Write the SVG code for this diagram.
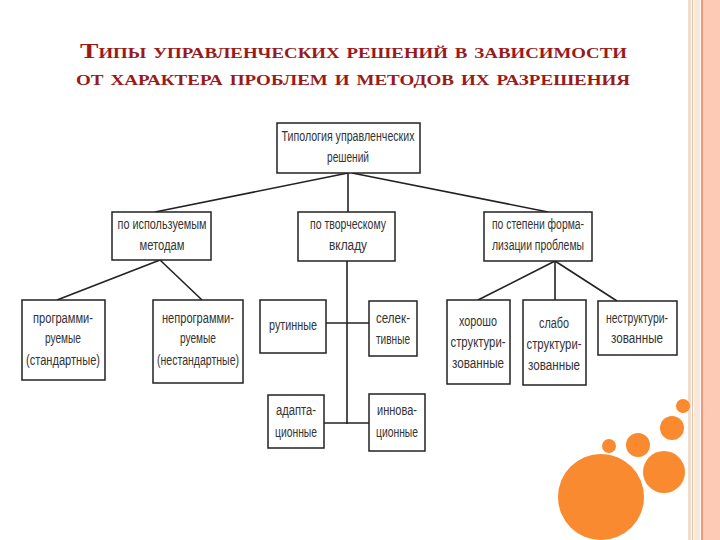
<svg xmlns="http://www.w3.org/2000/svg" width="720" height="540" viewBox="0 0 720 540">
<style>
.title{font-family:"Liberation Serif","DejaVu Serif",serif;font-weight:bold;fill:#9a1a1a;font-variant:small-caps}
.box{fill:#fff;stroke:#222;stroke-width:1.5}
.t{font-family:"Liberation Sans","DejaVu Sans",sans-serif;font-size:14px;fill:#333;text-anchor:middle}
.ln{stroke:#222;stroke-width:1.6;fill:none}
.dot{fill:#f98a2f}
</style>
<rect width="720" height="540" fill="#fff"/>
<g id="stripes">
<rect x="688" y="0" width="3" height="540" fill="#f2dccb"/>
<rect x="692" y="0" width="1" height="540" fill="#e4c2a8"/>
<rect x="694" y="0" width="6" height="540" fill="#fbe7da"/>
<rect x="701" y="0" width="2" height="540" fill="#ee9a78"/>
<rect x="703" y="0" width="17" height="540" fill="#fdcab6"/>
</g>
<g id="title">
<text class="title" x="80" y="58" font-size="22" textLength="547" lengthAdjust="spacingAndGlyphs">Типы управленческих решений в зависимости</text>
<text class="title" x="76" y="85" font-size="22" textLength="554" lengthAdjust="spacingAndGlyphs">от характера проблем и методов их разрешения</text>
</g>
<g id="connectors">
<line class="ln" x1="348" y1="173" x2="155" y2="212"/>
<line class="ln" x1="348" y1="173" x2="348" y2="212"/>
<line class="ln" x1="352" y1="173" x2="548" y2="212"/>
<line class="ln" x1="160" y1="260" x2="57" y2="300"/>
<line class="ln" x1="160" y1="260" x2="202" y2="300"/>
<line class="ln" x1="347" y1="261" x2="347" y2="424"/>
<line class="ln" x1="326" y1="323" x2="369" y2="323"/>
<line class="ln" x1="324" y1="423" x2="369" y2="423"/>
<line class="ln" x1="555" y1="261" x2="478" y2="300"/>
<line class="ln" x1="555" y1="261" x2="555" y2="300"/>
<line class="ln" x1="555" y1="261" x2="617" y2="301"/>
</g>
<g id="n-root">
<rect class="box" x="277" y="123" width="143" height="50"/>
<text class="t" x="348" y="141" textLength="133" lengthAdjust="spacingAndGlyphs">Типология управленческих</text>
<text class="t" x="348" y="162" textLength="42" lengthAdjust="spacingAndGlyphs">решений</text>
</g>
<g id="n-methods">
<rect class="box" x="112" y="212" width="99" height="48"/>
<text class="t" x="162" y="229" textLength="89" lengthAdjust="spacingAndGlyphs">по используемым</text>
<text class="t" x="162" y="250" textLength="45" lengthAdjust="spacingAndGlyphs">методам</text>
</g>
<g id="n-creative">
<rect class="box" x="298" y="212" width="97" height="49"/>
<text class="t" x="348" y="229" textLength="76" lengthAdjust="spacingAndGlyphs">по творческому</text>
<text class="t" x="348" y="250" textLength="38" lengthAdjust="spacingAndGlyphs">вкладу</text>
</g>
<g id="n-formal">
<rect class="box" x="484" y="212" width="108" height="49"/>
<text class="t" x="538" y="229" textLength="92" lengthAdjust="spacingAndGlyphs">по степени форма-</text>
<text class="t" x="538" y="250" textLength="92" lengthAdjust="spacingAndGlyphs">лизации проблемы</text>
</g>
<g id="n-prog">
<rect class="box" x="22" y="300" width="83" height="80"/>
<text class="t" x="63" y="323" textLength="60" lengthAdjust="spacingAndGlyphs">программи-</text>
<text class="t" x="63" y="343" textLength="36" lengthAdjust="spacingAndGlyphs">руемые</text>
<text class="t" x="63" y="365" textLength="74" lengthAdjust="spacingAndGlyphs">(стандартные)</text>
</g>
<g id="n-nonprog">
<rect class="box" x="153" y="300" width="90" height="83"/>
<text class="t" x="198" y="323" textLength="72" lengthAdjust="spacingAndGlyphs">непрограмми-</text>
<text class="t" x="198" y="343" textLength="36" lengthAdjust="spacingAndGlyphs">руемые</text>
<text class="t" x="198" y="365" textLength="82" lengthAdjust="spacingAndGlyphs">(нестандартные)</text>
</g>
<g id="n-routine">
<rect class="box" x="260" y="300" width="66" height="53"/>
<text class="t" x="293" y="330" textLength="48" lengthAdjust="spacingAndGlyphs">рутинные</text>
</g>
<g id="n-select">
<rect class="box" x="369" y="301" width="48" height="55"/>
<text class="t" x="393" y="323" textLength="34" lengthAdjust="spacingAndGlyphs">селек-</text>
<text class="t" x="393" y="344" textLength="34" lengthAdjust="spacingAndGlyphs">тивные</text>
</g>
<g id="n-adapt">
<rect class="box" x="268" y="395" width="56" height="53"/>
<text class="t" x="296" y="415" textLength="40" lengthAdjust="spacingAndGlyphs">адапта-</text>
<text class="t" x="296" y="437" textLength="42" lengthAdjust="spacingAndGlyphs">ционные</text>
</g>
<g id="n-innov">
<rect class="box" x="369" y="394" width="56" height="57"/>
<text class="t" x="397" y="415" textLength="40" lengthAdjust="spacingAndGlyphs">иннова-</text>
<text class="t" x="397" y="437" textLength="42" lengthAdjust="spacingAndGlyphs">ционные</text>
</g>
<g id="n-well">
<rect class="box" x="447" y="300" width="63" height="84"/>
<text class="t" x="478" y="326" textLength="38" lengthAdjust="spacingAndGlyphs">хорошо</text>
<text class="t" x="478" y="347" textLength="55" lengthAdjust="spacingAndGlyphs">структури-</text>
<text class="t" x="478" y="368" textLength="52" lengthAdjust="spacingAndGlyphs">зованные</text>
</g>
<g id="n-weak">
<rect class="box" x="523" y="300" width="63" height="85"/>
<text class="t" x="554" y="328" textLength="30" lengthAdjust="spacingAndGlyphs">слабо</text>
<text class="t" x="554" y="349" textLength="55" lengthAdjust="spacingAndGlyphs">структури-</text>
<text class="t" x="554" y="370" textLength="52" lengthAdjust="spacingAndGlyphs">зованные</text>
</g>
<g id="n-unstruct">
<rect class="box" x="598" y="301" width="79" height="54"/>
<text class="t" x="637" y="323" textLength="62" lengthAdjust="spacingAndGlyphs">неструктури-</text>
<text class="t" x="637" y="343" textLength="52" lengthAdjust="spacingAndGlyphs">зованные</text>
</g>
<g id="circles">
<circle class="dot" cx="601" cy="497" r="43"/>
<circle class="dot" cx="664" cy="472" r="21"/>
<circle class="dot" cx="638" cy="445" r="12"/>
<circle class="dot" cx="609" cy="446" r="7"/>
<circle class="dot" cx="672" cy="428" r="12"/>
<circle class="dot" cx="683" cy="406" r="7"/>
</g>
</svg>
